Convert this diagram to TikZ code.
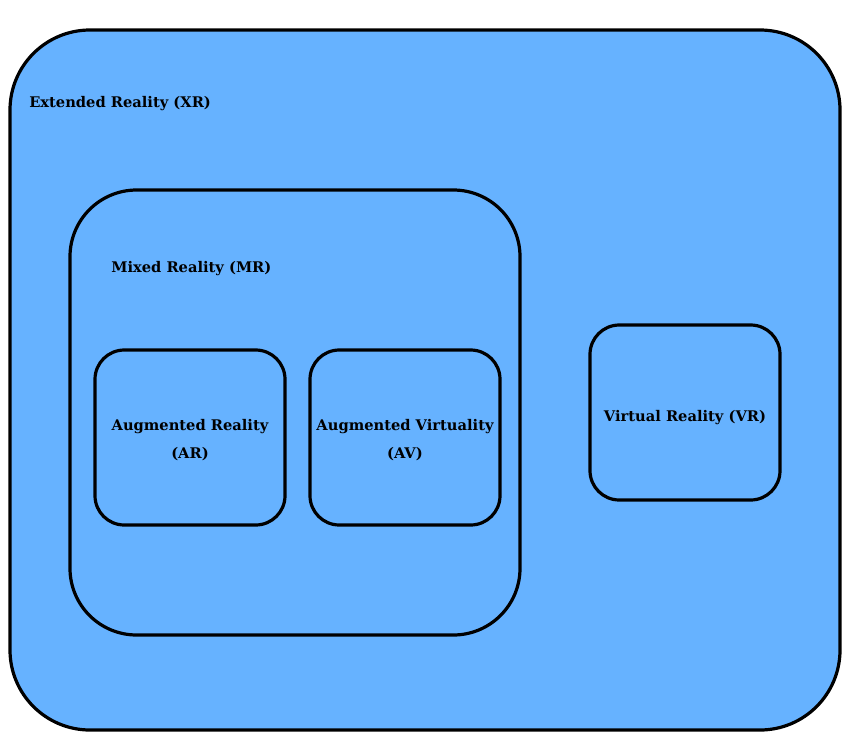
\documentclass[tikz,border=0pt]{standalone}
\usepackage{fontspec}
\setmainfont{DejaVu Serif}
\begin{document}
\begin{tikzpicture}[x=0.75pt,y=-0.75pt,
  realm/.style={draw=black,line width=2.4pt,rounded corners=#1,inner sep=0pt},
  realm label/.style={font=\fontsize{11}{21}\selectfont\bfseries,align=center,inner sep=0pt}]
\useasboundingbox (0,0) rectangle (842,732);
\node[realm=60pt,fill={rgb,255:red,102;green,178;blue,255},minimum width=622.5pt,minimum height=525pt] (xr) at (425,380) {};
\node[realm=50pt,minimum width=337.5pt,minimum height=333.75pt] (mr) at (295,412.5) {};
\node[realm=22pt,minimum width=142.5pt,minimum height=131.25pt] (ar) at (190,437.5) {};
\node[realm=22pt,minimum width=142.5pt,minimum height=131.25pt] (av) at (405,437.5) {};
\node[realm=22pt,minimum width=142.5pt,minimum height=131.25pt] (vr) at (685,412.5) {};
\node[realm label,anchor=west] (xrtext) at (29,104) {Extended Reality (XR)};
\node[realm label,anchor=west] (mrtext) at (111,269) {Mixed Reality (MR)};
\node[realm label] (artext) at (190,440) {Augmented Reality\\(AR)};
\node[realm label] (avtext) at (405,440) {Augmented Virtuality\\(AV)};
\node[realm label] (vrtext) at (685,418) {Virtual Reality (VR)};
\end{tikzpicture}
\end{document}
